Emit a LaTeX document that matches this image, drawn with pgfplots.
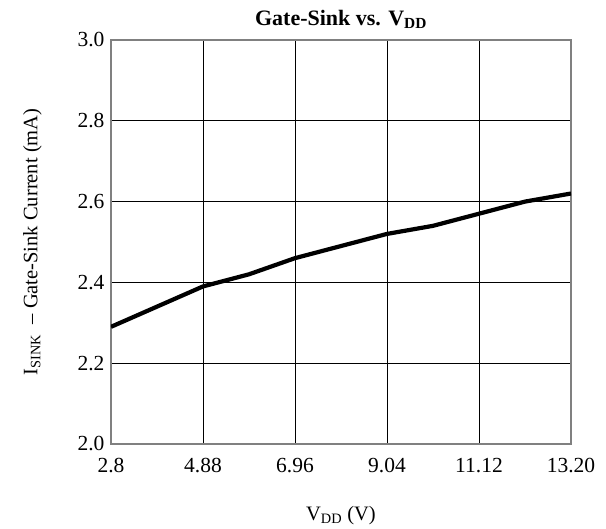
\documentclass[border=0pt]{standalone}
\usepackage{pgfplots}
\pgfplotsset{compat=1.18}
\usepackage{fontspec}
\setmainfont{Liberation Serif}
\begin{document}
\begin{tikzpicture}[x=1pt,y=1pt]
\useasboundingbox (-111,-85) rectangle (495,444);
\begin{axis}[
  at={(0,0)}, anchor=south west,
  scale only axis, width=460pt, height=404pt,
  xmin=2.8, xmax=13.2, ymin=2.0, ymax=3.0,
  xtick={2.8,4.88,6.96,9.04,11.12,13.2},
  xticklabels={2.8,4.88,6.96,9.04,11.12,13.20},
  ytick={2.0,2.2,2.4,2.6,2.8,3.0},
  yticklabels={2.0,2.2,2.4,2.6,2.8,3.0},
  /pgf/number format/assume math mode=true,
  grid=major,
  major grid style={black, line width=0.9pt},
  axis line style={gray, line width=1.6pt},
  tick style={draw=none},
  ticklabel style={font=\fontsize{21.5}{25}\selectfont},
  xticklabel style={yshift=-11pt},
  yticklabel style={xshift=-3pt},
  title={\textbf{Gate-Sink vs. V\textsubscript{DD}}},
  title style={font=\fontsize{22}{26}\selectfont, yshift=2pt},
  xlabel={V\textsubscript{DD} (V)},
  ylabel={I\textsubscript{SINK}\ \ -- Gate-Sink Current (mA)},
  label style={font=\fontsize{20.5}{24}\selectfont},
  xlabel style={yshift=-26pt},
  ylabel style={yshift=29pt},
]
\addplot[black, line width=4.2pt, line join=round] coordinates {
 (2.8,2.29) (3.84,2.34) (4.88,2.39) (5.92,2.42) (6.96,2.46) (8.0,2.49)
 (9.04,2.52) (10.08,2.54) (11.12,2.57) (12.16,2.60) (13.2,2.62)
};
\end{axis}
\end{tikzpicture}
\end{document}
